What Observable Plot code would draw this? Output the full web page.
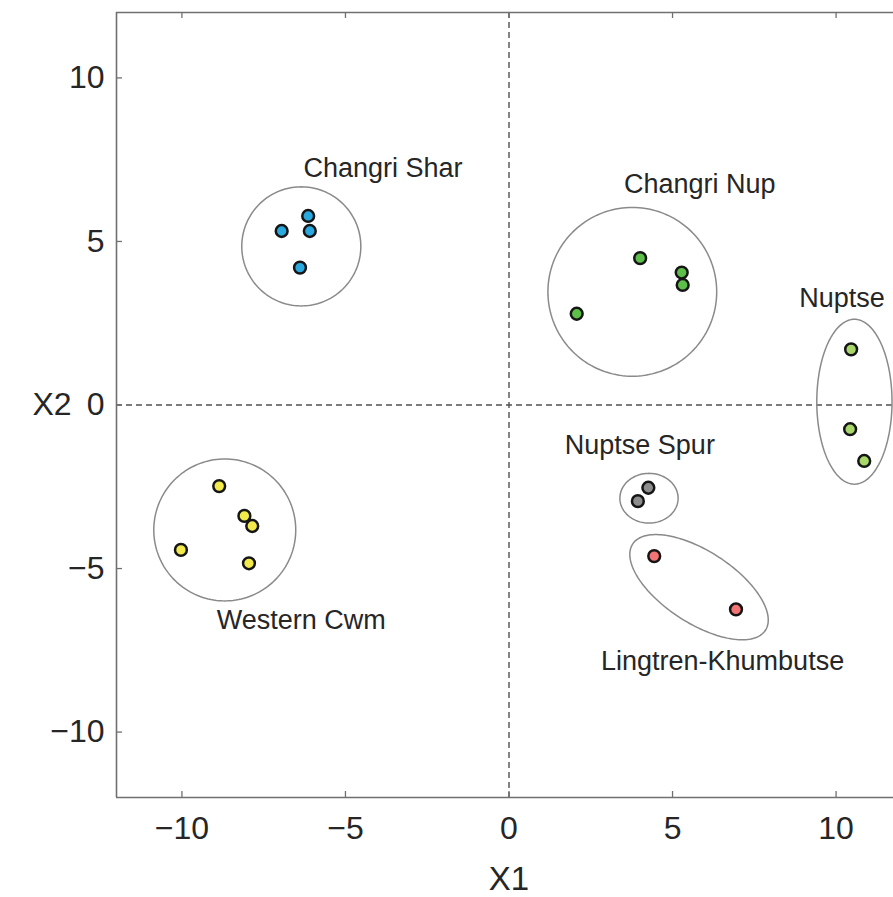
<!DOCTYPE html>
<html>
<head>
<meta charset="utf-8">
<script src="https://cdn.jsdelivr.net/npm/d3@7"></script>
<script src="https://cdn.jsdelivr.net/npm/@observablehq/plot@0.6"></script>
<style>
  html, body { margin: 0; padding: 0; background: #fff; }
  #chart { width: 893px; height: 897px; }
</style>
</head>
<body>
<div id="chart"></div>
<script>
// ---- data ----
const groups = ["Changri Shar", "Changri Nup", "Nuptse", "Western Cwm", "Nuptse Spur", "Lingtren-Khumbutse"];
const groupColors = ["#2aa9df", "#5dbf49", "#a9d86a", "#f2ea4b", "#8d8d8d", "#f27474"];

const pointGroup = [
  "Changri Shar", "Changri Shar", "Changri Shar", "Changri Shar",
  "Changri Nup", "Changri Nup", "Changri Nup", "Changri Nup",
  "Nuptse", "Nuptse", "Nuptse",
  "Western Cwm", "Western Cwm", "Western Cwm", "Western Cwm", "Western Cwm",
  "Nuptse Spur", "Nuptse Spur",
  "Lingtren-Khumbutse", "Lingtren-Khumbutse"
];
const pointX1 = [-6.95, -6.14, -6.09, -6.39,  2.07, 4.01, 5.28, 5.31,  10.46, 10.43, 10.86,  -8.86, -8.09, -7.85, -10.03, -7.95,  4.26, 3.94,  4.44, 6.94];
const pointX2 = [ 5.32,  5.78,  5.32,  4.20,  2.79, 4.49, 4.05, 3.67,   1.70, -0.74, -1.71,  -2.48, -3.39, -3.70,  -4.43, -4.84, -2.53, -2.94, -4.62, -6.25];

// enclosing ellipses (center, semi-axes, rotation in degrees)
const ellipseGroup = ["Changri Shar", "Changri Nup", "Nuptse", "Western Cwm", "Nuptse Spur", "Lingtren-Khumbutse"];
const ellipseCX = [-6.35, 3.77, 10.56, -8.69, 4.28, 5.81];
const ellipseCY = [ 4.85, 3.46,  0.10, -3.82, -2.85, -5.57];
const ellipseRX = [ 1.82, 2.58,  1.15,  2.17, 0.89, 2.42];
const ellipseRY = [ 1.82, 2.58,  2.52,  2.17, 0.76, 1.10];
const ellipseAngle = [0, 0, 0, 0, 0, -33];

const labelText = ["Changri Shar", "Changri Nup", "Nuptse", "Nuptse Spur", "Western Cwm", "Lingtren-Khumbutse"];
const labelX = [-3.85, 5.83, 10.18, 4.0, -6.35, 6.53];
const labelY = [ 7.22, 6.76,  3.26, -1.22, -6.59, -7.83];

const xTicks = [-10, -5, 0, 5, 10];
const yTicks = [-10, -5, 0, 5, 10];
const xLabel = "X1";
const yLabel = "X2";

// ---- derived tables ----
const points = pointX1.map((x, i) => ({group: pointGroup[i], x1: x, x2: pointX2[i]}));
const ellipsePts = [];
ellipseGroup.forEach((g, i) => {
  const a = ellipseAngle[i] * Math.PI / 180;
  const n = 160;
  for (let k = 0; k < n; k++) {
    const t = 2 * Math.PI * k / n;
    const ex = ellipseRX[i] * Math.cos(t), ey = ellipseRY[i] * Math.sin(t);
    ellipsePts.push({
      group: g,
      x: ellipseCX[i] + ex * Math.cos(a) - ey * Math.sin(a),
      y: ellipseCY[i] + ex * Math.sin(a) + ey * Math.cos(a)
    });
  }
});
const labels = labelText.map((t, i) => ({text: t, x: labelX[i], y: labelY[i]}));

// ---- layout ----
const W = 893, H = 897;
const mL = 116, mR = 0, mT = 12, mB = 100;
const yMin = -12, yMax = 12, xMin = -12;
const pxPerUnit = (H - mT - mB) / (yMax - yMin);
const xMax = xMin + (W - mL - mR) / pxPerUnit;
const tickLen = 6 / pxPerUnit;
const fmt = d => d < 0 ? "\u2212" + Math.abs(d) : String(d);
const frameColor = "#707070";
const textColor = "#262626";

const chart = Plot.plot({
  width: W, height: H,
  marginLeft: mL, marginRight: mR, marginTop: mT, marginBottom: mB,
  style: {fontFamily: "'Liberation Sans', Arial, Helvetica, sans-serif", fontSize: "32px", color: textColor, background: "#fff"},
  x: {domain: [xMin, xMax], label: null},
  y: {domain: [yMin, yMax], label: null},
  color: {domain: groups, range: groupColors},
  marks: [
    // dashed zero lines
    Plot.ruleX([0], {stroke: "#505050", strokeWidth: 1.4, strokeDasharray: "6,4"}),
    Plot.ruleY([0], {stroke: "#505050", strokeWidth: 1.4, strokeDasharray: "6,4"}),
    // frame (left, top, bottom)
    Plot.ruleX([xMin], {stroke: frameColor, strokeWidth: 1.6}),
    Plot.ruleY([yMin, yMax], {stroke: frameColor, strokeWidth: 1.6}),
    // inward ticks
    Plot.ruleX(xTicks, {x: d => d, y1: yMin, y2: yMin + tickLen, stroke: frameColor, strokeWidth: 1.3}),
    Plot.ruleX(xTicks, {x: d => d, y1: yMax, y2: yMax - tickLen, stroke: frameColor, strokeWidth: 1.3}),
    Plot.ruleY(yTicks, {y: d => d, x1: xMin, x2: xMin + tickLen, stroke: frameColor, strokeWidth: 1.3}),
    // tick labels
    Plot.axisX({anchor: "bottom", ticks: xTicks, tickFormat: fmt, tickSize: 0, tickPadding: 19, fontSize: 32, fill: textColor}),
    Plot.axisY({anchor: "left", ticks: yTicks, tickFormat: fmt, tickSize: 0, tickPadding: 12, fontSize: 32, fill: textColor}),
    // axis titles
    Plot.text([xLabel], {x: () => 0, frameAnchor: "bottom", dy: 92, text: d => d, fontSize: 33, fill: textColor}),
    Plot.text([yLabel], {y: () => 0, frameAnchor: "left", dx: 32 - mL, text: d => d, fontSize: 32, fill: textColor}),
    // enclosing ellipses
    Plot.line(ellipsePts, {x: "x", y: "y", z: "group", curve: "linear-closed", stroke: "#8a8a8a", strokeWidth: 1.5}),
    // points
    Plot.dot(points, {x: "x1", y: "x2", fill: "group", stroke: "#151515", strokeWidth: 2.5, r: 5.9}),
    // group labels
    Plot.text(labels, {x: "x", y: "y", text: "text", fontSize: 27, fill: textColor})
  ]
});
document.getElementById("chart").appendChild(chart);
</script>
</body>
</html>
